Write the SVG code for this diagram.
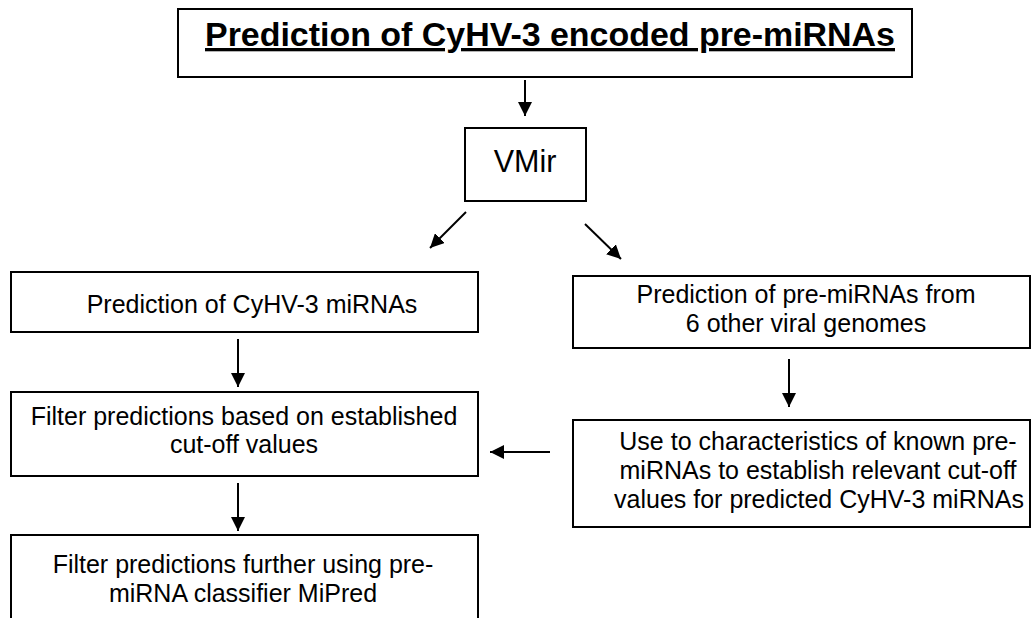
<svg xmlns="http://www.w3.org/2000/svg" width="1033" height="618" viewBox="0 0 1033 618">
<defs>
<style>
.box{fill:#fff;stroke:#000;stroke-width:2}
.t{font-family:"Liberation Sans",Arial,sans-serif;font-size:25px;fill:#000;text-anchor:middle}
.title{font-family:"Liberation Sans",Arial,sans-serif;font-size:33px;font-weight:bold;fill:#000;text-anchor:middle;text-decoration:underline}
.c{stroke:#000;stroke-width:2;fill:none;marker-end:url(#ah)}
</style>
<marker id="ah" markerUnits="userSpaceOnUse" markerWidth="14" markerHeight="14" refX="14" refY="7" orient="auto">
<path d="M0,0 L14,7 L0,14 Z" fill="#000"/>
</marker>
</defs>
<g id="title">
<rect class="box" x="178" y="9" width="734" height="68"/>
<text class="title" x="550" y="46" textLength="690" lengthAdjust="spacingAndGlyphs">Prediction of CyHV-3 encoded pre-miRNAs</text>
</g>
<g id="vmir">
<rect class="box" x="465" y="128" width="121" height="73"/>
<text class="t" x="525" y="172" style="font-size:30.5px">VMir</text>
</g>
<g id="pred-cyhv">
<rect class="box" x="11" y="272" width="467" height="60"/>
<text class="t" x="252" y="313">Prediction of CyHV-3 miRNAs</text>
</g>
<g id="filter-cutoff">
<rect class="box" x="11" y="392" width="467" height="84"/>
<text class="t" x="244" y="425">Filter predictions based on established</text>
<text class="t" x="244" y="453">cut-off values</text>
</g>
<g id="filter-mipred">
<rect class="box" x="11" y="535" width="467" height="100"/>
<text class="t" x="243" y="573">Filter predictions further using pre-</text>
<text class="t" x="243" y="602">miRNA classifier MiPred</text>
</g>
<g id="pred-other">
<rect class="box" x="573" y="276" width="457" height="72"/>
<text class="t" x="806" y="303">Prediction of pre-miRNAs from</text>
<text class="t" x="806" y="332">6 other viral genomes</text>
</g>
<g id="cutoff-chars">
<rect class="box" x="573" y="420" width="457" height="107"/>
<text class="t" x="818" y="450">Use to characteristics of known pre-</text>
<text class="t" x="818" y="479">miRNAs to establish relevant cut-off</text>
<text class="t" x="819" y="508">values for predicted CyHV-3 miRNAs</text>
</g>
<g id="connectors">
<line class="c" x1="525" y1="80" x2="525" y2="116"/>
<line class="c" x1="466" y1="212" x2="430" y2="248"/>
<line class="c" x1="585" y1="224" x2="621" y2="259"/>
<line class="c" x1="238" y1="339" x2="238" y2="387"/>
<line class="c" x1="238" y1="483" x2="238" y2="531"/>
<line class="c" x1="789" y1="359" x2="789" y2="407"/>
<line class="c" x1="550" y1="452" x2="490" y2="452"/>
</g>
</svg>
